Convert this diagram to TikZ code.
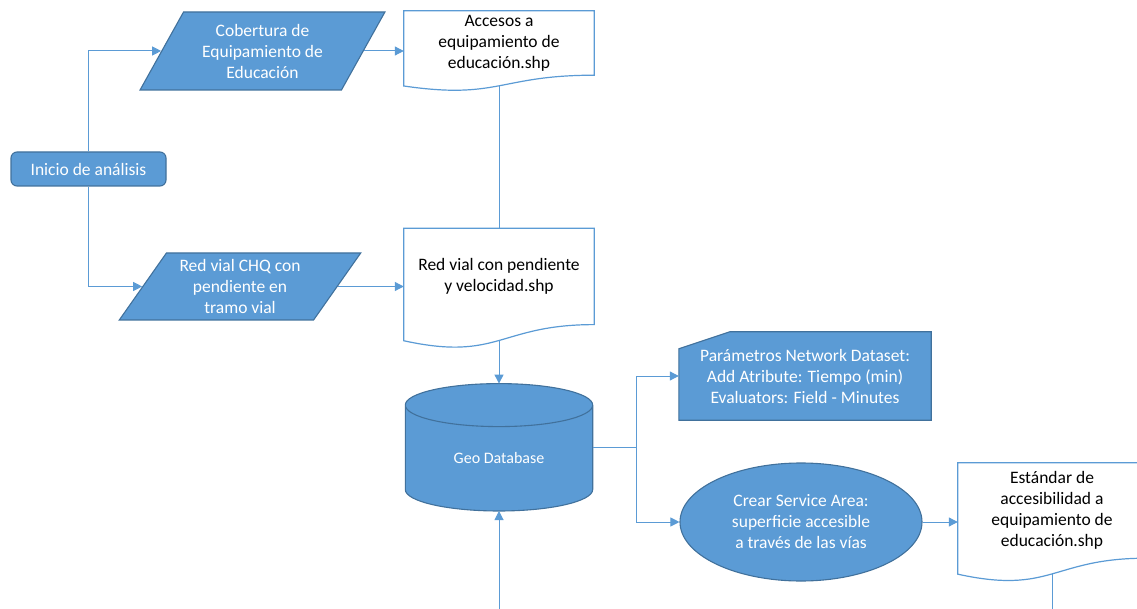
\documentclass[tikz,border=0pt]{standalone}
\usepackage{fontspec}
\setmainfont{Carlito}
\usepackage{tikz}
\usetikzlibrary{arrows.meta,calc,positioning,shapes.geometric,backgrounds}
\definecolor{fillblue}{HTML}{5B9BD5}
\definecolor{edgeblue}{HTML}{41719C}
\definecolor{lineblue}{HTML}{5B9BD5}
\newcommand{\lblfont}{\fontsize{17.5}{21}\selectfont}
\tikzset{
        flow/.style = {draw=edgeblue, fill=fillblue, line width=1.1pt,
            text=white, align=center, inner sep=1pt, font=\lblfont},
        startbox/.style = {flow, rectangle, rounded corners=6pt,
            minimum width=155pt, minimum height=34pt},
        datain/.style = {flow, trapezium, trapezium stretches=true},
        docu/.style = {rectangle, align=center, inner sep=1pt, font=\lblfont,
            minimum width=190pt},
        docline/.style = {draw=lineblue, fill=white, line width=1.2pt},
        cardbox/.style = {rectangle, align=center, inner sep=1pt, text=white,
            font=\lblfont, minimum width=252pt, minimum height=88pt},
        cardline/.style = {draw=edgeblue, fill=fillblue, line width=1.1pt},
        dbbox/.style = {rectangle, inner sep=0pt, minimum width=187pt, minimum height=127pt},
        dbtext/.style = {text=white, font=\fontsize{16}{19}\selectfont},
        svc/.style = {flow, ellipse, minimum width=242pt, minimum height=118pt},
        conn/.style = {draw=lineblue, line width=1pt},
        arrow/.style = {conn, -{Triangle[length=9pt,width=9pt]}},
    }
% document outline with wavy foot, and a foot point for the connector
\newcommand{\docframe}[1]{%
  \begin{pgfonlayer}{background}
  \draw[docline] let \p1=(#1.north west), \p2=(#1.south east), \n1={\y1-\y2} in
    (\p1) -- (\x2,\y1) -- (\p2)
    .. controls ({0.5*(\x1+\x2)},\y2) and ({0.5*(\x1+\x2)},{\y1-1.384*\n1}) ..
    (\x1,{\y1-1.1675*\n1}) -- cycle;
  \end{pgfonlayer}
  \coordinate (#1b) at ($(#1.north)!1.166!(#1.south)$);}
\newcommand{\cardframe}[1]{%
  \begin{pgfonlayer}{background}
  \draw[cardline] let \p1=(#1.north west), \p2=(#1.south east) in
    (\x1,{\y1-17pt}) -- ({\x1+51pt},\y1) -- (\x2,\y1) -- (\p2) -- (\x1,\y2) -- cycle;
  \end{pgfonlayer}}
\newcommand{\dbframe}[1]{%
  \begin{pgfonlayer}{background}
  \draw[cardline] let \p1=(#1.north west), \p2=(#1.south east) in
    (\x1,{\y1-21.5pt}) -- (\x1,{\y2+21.5pt})
    arc[start angle=180, end angle=360, x radius={(\x2-\x1)/2}, y radius=21.5pt]
    -- (\x2,{\y1-21.5pt})
    arc[start angle=0, end angle=180, x radius={(\x2-\x1)/2}, y radius=21.5pt] -- cycle
    (\x1,{\y1-21.5pt})
    arc[start angle=180, end angle=360, x radius={(\x2-\x1)/2}, y radius=21.5pt];
  \end{pgfonlayer}}

\begin{document}
\begin{tikzpicture}[x=1pt,y=-1pt]
    \useasboundingbox (0,0) rectangle (1137,609);
    \coordinate (bot) at (0,609);

    \node[startbox] (s0) at (88.5,169) {Inicio de análisis};
    \node[datain, minimum width=245pt, minimum height=78pt,
          trapezium left angle=59, trapezium right angle=121] (p1) at (262.5,51)
          {Cobertura de\\Equipamiento de\\Educación};
    \node[datain, minimum width=242pt, minimum height=67pt,
          trapezium left angle=55, trapezium right angle=125] (p2) at (240,286.5)
          {Red vial CHQ con\\pendiente en\\tramo vial};

    \node[docu, minimum height=64pt] (f1) at (499,43)
          {Accesos a\\equipamiento de\\educación.shp};
    \node[docu, minimum height=96pt, below=153pt of f1] (f2)
          {Red vial con pendiente\\y velocidad.shp};
    \node[dbbox, below=59pt of f2] (db) {};
    \node[dbtext] (dbl) at ([yshift=-11pt]db.center) {Geo Database};

    \node[cardbox] (c1) at (805,376)
          {Parámetros Network Dataset:\\Add Atribute: Tiempo (min)\\Evaluators: Field - Minutes};
    \node[svc] (e1) at (801,522)
          {Crear Service Area:\\superficie accesible\\a través de las vías};
    \node[docu, minimum width=188pt, minimum height=95pt] (f3) at (1052,510.5)
          {Estándar de\\accesibilidad a\\equipamiento de\\educación.shp};

    \docframe{f1}
    \docframe{f2}
    \docframe{f3}
    \cardframe{c1}
    \dbframe{db}

    \draw[arrow] (s0.north) |- (p1.left side);
    \draw[arrow] (s0.south) |- (p2.left side);
    \draw[arrow] (p1.right side) -- (p1.right side -| f1.west);
    \draw[conn] (f1b) -- (f2.north);
    \draw[arrow] (p2.right side) -- (p2.right side -| f2.west);
    \draw[arrow] (f2b) -- (db.north);
    \coordinate[right=44pt of db.east] (k1);
    \draw[conn] (db.east) -- (k1);
    \draw[arrow] (k1) |- (c1.west);
    \draw[arrow] (k1) |- (e1.west);
    \draw[arrow] (e1.east) -- (e1.east -| f3.west);
    \draw[conn] (f3b) -- (f3b |- bot);
    \draw[arrow] (f2b |- bot) -- (db.south);
\end{tikzpicture}
\end{document}
